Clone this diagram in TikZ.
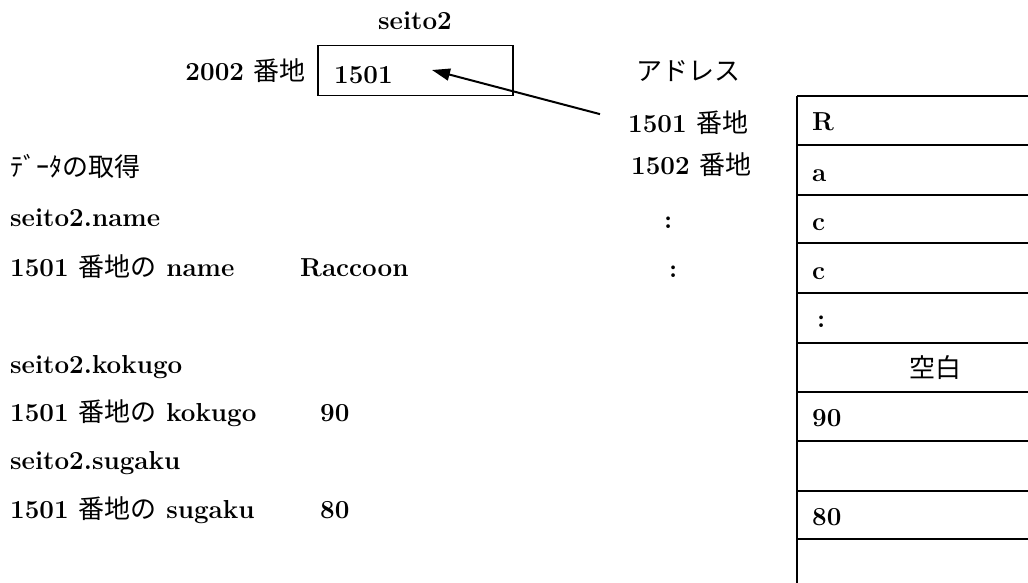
\documentclass[tikz,border=0pt]{standalone}
\usepackage{fontspec}
\newfontfamily\jpf{Noto Sans CJK JP}
\newcommand{\J}[1]{{\mdseries\jpf #1}}
\usetikzlibrary{arrows.meta}
\begin{document}
\begin{tikzpicture}[x=1pt,y=-1pt,
  txt/.style={anchor=base west,inner sep=0pt,font=\fontsize{26}{26}\selectfont\bfseries},
  ctxt/.style={anchor=base,inner sep=0pt,font=\fontsize{26}{26}\selectfont\bfseries},
  ln/.style={line width=1.6pt}]
\useasboundingbox (0,0) rectangle (1028,583);
% top box
\node[ctxt] (lbl) at (415,30) {seito2};
\node[draw,ln,minimum width=195pt,minimum height=50pt,inner sep=0pt] (box) at (415.5,70.5) {};
\node[txt] (v) at (334,84) {1501};
\node[txt,anchor=base east] (a2002) at (306,81) {2002 \J{番地}};
\coordinate (head) at (432,70);
% address labels
\node[txt] (adr) at (636,81) {\J{アドレス}};
\node[txt] (a1501) at (628,132) {1501 \J{番地}};
\node[txt] (a1502) at (631,175) {1502 \J{番地}};
\node[txt] (d1) at (664,228) {:};
\node[txt] (d2) at (669,277) {:};
\draw[line width=2pt,-{Triangle[length=18pt,width=12pt]}] (a1501.west) ++(-28,-8) coordinate (tail) (tail) -- (head);
% memory table
\foreach \yy in {96,145,195,243,293,343,392,441,491,539}{
  \draw[ln] (797,\yy) -- (1028,\yy);
}
\draw[ln] (797,96) -- (797,583);
\node[txt] (r1) at (812,131) {R};
\node[txt] (r2) at (812,181) {a};
\node[txt] (r3) at (812,230) {c};
\node[txt] (r4) at (812,279) {c};
\node[txt] (r5) at (817,327) {:};
\node[ctxt] (r6) at (935,377) {\J{空白}};
\node[txt] (r7) at (812,426) {90};
\node[txt] (r9) at (812,525) {80};
% left texts
\node[txt] (t0) at (10,176) {\J{ﾃﾞｰﾀの取得}};
\node[txt] (t1) at (10,226) {seito2.name};
\node[txt] (t2) at (10,276) {1501 \J{番地の} name};
\node[txt] (t2b) at (300,276) {Raccoon};
\node[txt] (t3) at (10,373) {seito2.kokugo};
\node[txt] (t4) at (10,421) {1501 \J{番地の} kokugo};
\node[txt] (t4b) at (320,421) {90};
\node[txt] (t5) at (10,469) {seito2.sugaku};
\node[txt] (t6) at (10,518) {1501 \J{番地の} sugaku};
\node[txt] (t6b) at (320,518) {80};
\end{tikzpicture}
\end{document}
